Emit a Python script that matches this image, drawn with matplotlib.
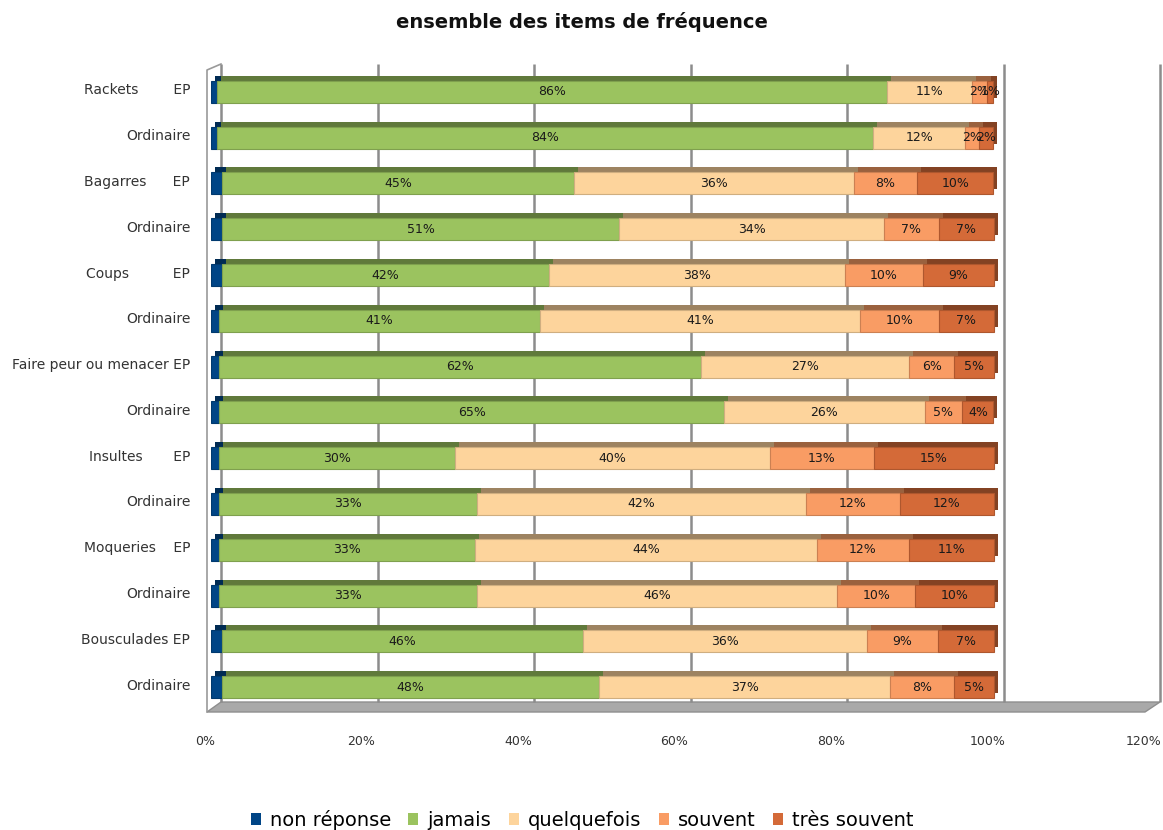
import matplotlib
matplotlib.use("Agg")
import matplotlib.pyplot as plt
from matplotlib.patches import Polygon, Patch
from matplotlib.lines import Line2D
from matplotlib import transforms as mtrans
from matplotlib.colors import to_rgb
import numpy as np

# ---------------- data ----------------
categories = [
    "Rackets        EP", "Ordinaire",
    "Bagarres      EP", "Ordinaire",
    "Coups          EP", "Ordinaire",
    "Faire peur ou menacer EP", "Ordinaire",
    "Insultes       EP", "Ordinaire",
    "Moqueries    EP", "Ordinaire",
    "Bousculades EP", "Ordinaire",
]
series_names = ["non réponse", "jamais", "quelquefois", "souvent", "très souvent"]
non_reponse  = [0.8, 0.8, 1.4, 1.4, 1.4, 1.0, 1.0, 1.0, 1.0, 1.0, 1.0, 1.0, 1.4, 1.4]
jamais       = [85.6, 83.8, 45.0, 50.8, 41.8, 41.0, 61.6, 64.6, 30.2, 33.0, 32.8, 33.0, 46.2, 48.2]
quelquefois  = [10.8, 11.8, 35.8, 33.8, 37.8, 41.0, 26.6, 25.6, 40.2, 42.0, 43.6, 46.0, 36.2, 37.2]
souvent      = [2.0, 1.8, 8.0, 7.0, 10.0, 10.0, 5.8, 4.8, 13.3, 12.0, 11.8, 10.0, 9.1, 8.1]
tres_souvent = [0.8, 1.8, 9.8, 7.0, 9.0, 7.0, 5.0, 4.0, 15.3, 12.0, 10.8, 10.0, 7.1, 5.1]
x_ticks = [0, 20, 40, 60, 80, 100, 120]
x_tick_labels = ["0%", "20%", "40%", "60%", "80%", "100%", "120%"]
title = "ensemble des items de fréquence"

colors = ["#004586", "#9BC35F", "#FDD49C", "#F99C64", "#D46A38"]

# ---------------- figure ----------------
W, H = 1163, 830
fig = plt.figure(figsize=(W / 100, H / 100), dpi=100)
ax = fig.add_axes([211 / W, 1 - 710 / H, (1150 - 211) / W, (710 - 69) / H])
ax.set_facecolor("none")
for s in ax.spines.values():
    s.set_visible(False)

def px(x, y):
    return (x / W, 1 - y / H)

def darken(c, f):
    r, g, b = to_rgb(c)
    return (r * f, g * f, b * f)

# floor and left wall (3D look)
floor = Polygon([px(207, 712), px(1145, 712), px(1160, 702), px(221, 702)],
                closed=True, transform=fig.transFigure, facecolor="#a9a9a9",
                edgecolor="#8e8e8e", lw=1, zorder=0)
fig.add_artist(floor)
fig.add_artist(Line2D([207 / W, 207 / W, 221 / W], [1 - 712 / H, 1 - 70 / H, 1 - 64 / H],
                      transform=fig.transFigure, color="#9a9a9a", lw=1.2, zorder=0))

ax.set_xlim(0, 120)
n = len(categories)
ax.set_ylim(n - 0.5, -0.5)
y = np.arange(n)

# back-wall gridlines
gl_tr = mtrans.offset_copy(ax.get_xaxis_transform(), fig=fig, x=10, y=0, units="dots")
ax.vlines(x_ticks, (710 - 702) / 641, (710 - 64) / 641, transform=gl_tr,
          colors="#8c8c8c", lw=1.8, zorder=1, clip_on=False)

series = [non_reponse, jamais, quelquefois, souvent, tres_souvent]
bar_h = 0.48
shadow = mtrans.offset_copy(ax.transData, fig=fig, x=4, y=5, units="dots")

left = np.zeros(n)
for vals, col in zip(series, colors):
    vals = np.array(vals)
    ax.barh(y, vals, left=left, height=bar_h, color=darken(col, 0.62),
            transform=shadow, zorder=2, linewidth=0)
    left += vals

left = np.zeros(n)
for i, (vals, col) in enumerate(zip(series, colors)):
    vals = np.array(vals)
    ax.barh(y, vals, left=left, height=bar_h, color=col,
            edgecolor=darken(col, 0.82), linewidth=0.8, zorder=3)
    if i > 0:
        for yy, l, v in zip(y, left, vals):
            ax.text(l + v / 2, yy, f"{v:.0f}%", ha="center", va="center",
                    fontsize=9, color="#1a1a1a", zorder=4)
    left += vals

# ticks
ax.set_xticks(x_ticks)
ax.set_xticklabels(x_tick_labels, fontsize=9, color="#333333")
ax.tick_params(axis="x", length=0, pad=18)
ax.set_yticks(y)
ax.set_yticklabels(categories, fontsize=10, color="#333333")
ax.tick_params(axis="y", length=0, pad=15)
sx = mtrans.ScaledTranslation(-6 / 100, 0, fig.dpi_scale_trans)
for lab in ax.get_xticklabels():
    lab.set_transform(lab.get_transform() + sx)
sy = mtrans.ScaledTranslation(0, 3 / 100, fig.dpi_scale_trans)
for lab in ax.get_yticklabels():
    lab.set_transform(lab.get_transform() + sy)

fig.text(582 / W, 1 - 22 / H, title, fontsize=14, fontweight="bold",
         ha="center", va="center", color="#111111")

handles = [Patch(facecolor=c, edgecolor="none") for c in colors]
fig.legend(handles, series_names, loc="center", bbox_to_anchor=(582 / W, 1 - 820 / H),
           ncol=5, frameon=False, fontsize=14, handlelength=0.52, handleheight=0.6,
           handletextpad=0.46, columnspacing=0.9, borderpad=0.2)

fig.savefig("out.png", dpi=100)
